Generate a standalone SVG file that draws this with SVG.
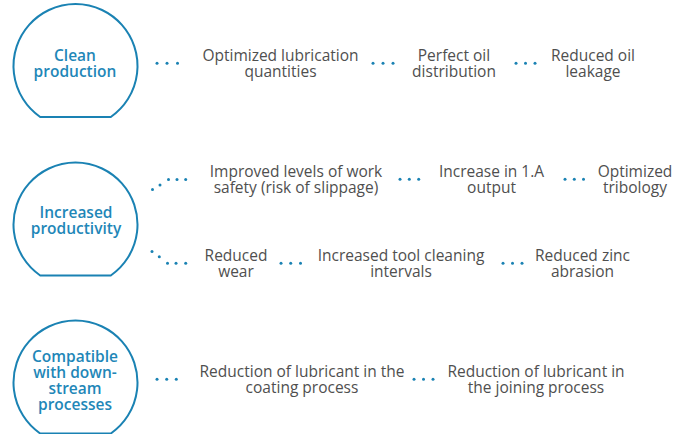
<svg xmlns="http://www.w3.org/2000/svg" width="689" height="434" viewBox="0 0 689 434">
<style>
.bub{fill:#fff;stroke:#1a82b3;stroke-width:2}
.ttl{font-family:"Open Sans","Liberation Sans",sans-serif;font-size:15.5px;font-weight:600;fill:#1f87b8;text-anchor:middle}
.txt{font-family:"Open Sans","Liberation Sans",sans-serif;font-size:15.5px;fill:#4f4f4f;text-anchor:middle}
.dot{fill:#1a82b3}
</style>
<defs>
<circle id="d" r="1.5" class="dot"/>
</defs>
<rect width="689" height="434" fill="#fff"/>

<g id="clean-production">
<path class="bub" d="M40.2 117 A62 62 0 1 1 110.8 117 Z"/>
<text class="ttl" x="75" y="61">Clean<tspan x="75" dy="16">production</tspan></text>
</g>

<g id="increased-productivity">
<path class="bub" d="M40.2 275.5 A62 62 0 1 1 110.8 275.5 Z"/>
<text class="ttl" x="76" y="218.3">Increased<tspan x="76" dy="15.7">productivity</tspan></text>
</g>

<g id="compatible">
<path class="bub" d="M40.2 433.5 A62 62 0 1 1 110.8 433.5 Z"/>
<text class="ttl" x="75" y="361.7">Compatible<tspan x="75" dy="16.2">with down-</tspan><tspan x="75" dy="16">stream</tspan><tspan x="75" dy="16">processes</tspan></text>
</g>

<g id="optimized-lubrication">
<text class="txt" x="280.5" y="61">Optimized lubrication<tspan x="280.5" dy="16">quantities</tspan></text>
</g>
<g id="perfect-oil">
<text class="txt" x="454" y="61">Perfect oil<tspan x="454" dy="16">distribution</tspan></text>
</g>
<g id="reduced-oil">
<text class="txt" x="593" y="61">Reduced oil<tspan x="593" dy="16">leakage</tspan></text>
</g>

<g id="work-safety">
<text class="txt" x="296" y="176.7">Improved levels of work<tspan x="296" dy="15.8">safety (risk of slippage)</tspan></text>
</g>
<g id="increase-output">
<text class="txt" x="491.5" y="176.7">Increase in 1.A<tspan x="491.5" dy="15.8">output</tspan></text>
</g>
<g id="optimized-tribology">
<text class="txt" x="635" y="176.7">Optimized<tspan x="635" dy="15.8">tribology</tspan></text>
</g>

<g id="reduced-wear">
<text class="txt" x="236" y="261">Reduced<tspan x="236" dy="16">wear</tspan></text>
</g>
<g id="tool-cleaning">
<text class="txt" x="401" y="261">Increased tool cleaning<tspan x="401" dy="16">intervals</tspan></text>
</g>
<g id="zinc-abrasion">
<text class="txt" x="582.5" y="261">Reduced zinc<tspan x="582.5" dy="16">abrasion</tspan></text>
</g>

<g id="coating">
<text class="txt" x="302" y="376.7">Reduction of lubricant in the<tspan x="302" dy="16">coating process</tspan></text>
</g>
<g id="joining">
<text class="txt" x="536" y="376.7">Reduction of lubricant in<tspan x="536" dy="16">the joining process</tspan></text>
</g>

<g id="connectors">
<use href="#d" x="157" y="63.3"/><use href="#d" x="167" y="63.3"/><use href="#d" x="177.5" y="63.3"/>
<use href="#d" x="373" y="63.3"/><use href="#d" x="383" y="63.3"/><use href="#d" x="393" y="63.3"/>
<use href="#d" x="516" y="63.3"/><use href="#d" x="525.5" y="63.3"/><use href="#d" x="535" y="63.3"/>

<use href="#d" x="152.5" y="189.5"/><use href="#d" x="160" y="185"/><use href="#d" x="168.5" y="179.5"/><use href="#d" x="177" y="179.5"/><use href="#d" x="185.7" y="179.5"/>
<use href="#d" x="400" y="179.3"/><use href="#d" x="409.3" y="179.3"/><use href="#d" x="418.7" y="179.3"/>
<use href="#d" x="565" y="179.3"/><use href="#d" x="574.3" y="179.3"/><use href="#d" x="583.5" y="179.3"/>

<use href="#d" x="152" y="251.5"/><use href="#d" x="159.3" y="256.7"/><use href="#d" x="167.5" y="263.3"/><use href="#d" x="176" y="263.3"/><use href="#d" x="185.7" y="263.3"/>
<use href="#d" x="281" y="263.3"/><use href="#d" x="290.7" y="263.3"/><use href="#d" x="300.5" y="263.3"/>
<use href="#d" x="503" y="263.3"/><use href="#d" x="512.5" y="263.3"/><use href="#d" x="522" y="263.3"/>

<use href="#d" x="157" y="379.3"/><use href="#d" x="166.7" y="379.3"/><use href="#d" x="176.3" y="379.3"/>
<use href="#d" x="414" y="379.3"/><use href="#d" x="423.5" y="379.3"/><use href="#d" x="433" y="379.3"/>
</g>
</svg>
